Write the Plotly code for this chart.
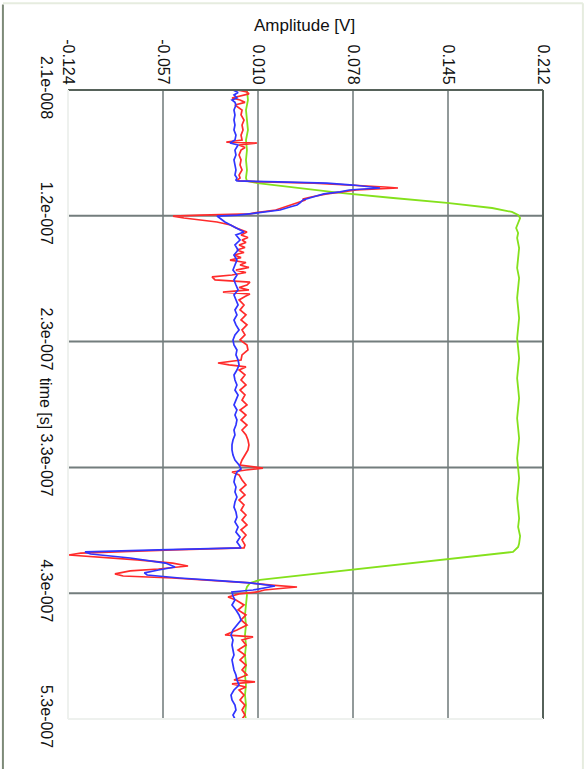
import plotly.graph_objects as go

# ---- axis ticks ----
time_ticks = [2.1e-8, 1.228e-7, 2.246e-7, 3.264e-7, 4.282e-7, 5.3e-7]
time_labels = ["2.1e-008", "1.2e-007", "2.3e-007", "3.3e-007", "4.3e-007", "5.3e-007"]
amp_ticks = [-0.124, -0.0568, 0.0104, 0.0776, 0.1448, 0.212]
amp_labels = ["-0.124", "-0.057", "0.010", "0.078", "0.145", "0.212"]

# ---- measured waveforms: time in ns, amplitude in V ----
blue_t = [21.0, 23.0, 25.0, 27.5, 29.1, 31.0, 33.1, 37.2, 41.2, 45.3, 49.3, 53.4, 57.5, 61.5,
          63.9, 65.5, 69.6, 73.6, 77.6, 81.7, 85.7, 89.8, 92.2, 93.8,
          94.6, 95.4, 96.3, 97.9, 99.5, 100.3, 101.1, 101.9, 103.5, 105.1, 107.6, 110.0, 112.4,
          114.1, 115.7, 118.1, 120.5, 122.2, 123.0, 127.8, 132.7, 135.9,
          138.3, 142.4, 146.4, 150.5, 154.5, 158.6, 162.6, 166.7, 170.7, 174.7, 178.8, 182.8,
          186.9, 190.9, 195.0, 199.0, 203.0, 207.1, 211.1, 215.2, 219.2, 223.3, 227.4, 231.4,
          235.4, 239.5, 243.5, 247.6, 251.6, 255.7, 259.7, 263.8, 267.8, 271.9, 275.9, 279.9,
          284.0, 288.0, 292.1, 296.1, 300.1, 304.2, 308.2, 312.3, 316.4, 320.4, 324.5, 327.7,
          330.1, 334.2, 338.2, 342.3, 346.3, 350.4, 354.4, 358.5, 362.5, 366.6, 370.6, 374.7,
          378.7, 382.8, 386.8, 389.2, 391.6,
          393.2, 394.8, 396.5, 399.7, 403.8, 407.0, 409.4, 411.8, 413.5, 415.9, 418.3, 419.9,
          422.4, 424.0, 425.6, 427.2, 430.5, 433.7, 437.7, 441.8, 445.8, 449.9, 454.0, 458.0,
          462.0, 466.1, 470.1, 474.2, 478.2, 482.2, 486.3, 490.3, 494.4, 498.4, 502.5, 506.5,
          510.6, 514.6, 518.7, 522.7, 526.8, 530.0]
blue_v = [-0.0073, -0.0037, -0.0066, -0.0045, -0.0080, -0.0059, -0.0052, -0.0066, -0.0059,
          -0.0066, -0.0059, -0.0066, -0.0052, -0.0059,
          -0.0094, -0.0037, -0.0059, -0.0052, -0.0066, -0.0059, -0.0052, -0.0059, -0.0045, -0.0052,
          -0.0045, 0.0250, 0.0592, 0.0777, 0.0896, 0.0967, 0.0850, 0.0750, 0.0685, 0.0570,
          0.0493, 0.0422, 0.0401, 0.0380, 0.0330, 0.0260, 0.0097, -0.0040, -0.0186, -0.0130,
          -0.0050, 0.0005,
          -0.0052, -0.0023, -0.0059, -0.0037, -0.0066, -0.0045, -0.0059, -0.0073, -0.0045,
          -0.0066, -0.0052, -0.0037, -0.0066, -0.0052, -0.0037, -0.0059, -0.0045, -0.0066,
          -0.0052, -0.0030, -0.0059, -0.0073, -0.0066, -0.0045, -0.0052, -0.0037, -0.0030,
          -0.0045, -0.0066, -0.0059, -0.0045, -0.0059, -0.0037, -0.0052, -0.0066, -0.0045,
          -0.0059, -0.0045, -0.0052, -0.0066, -0.0059, -0.0073, -0.0080, -0.0080, -0.0073,
          -0.0059, -0.0030, -0.0016, -0.0045, -0.0059, -0.0066, -0.0052, -0.0059, -0.0045,
          -0.0059, -0.0066, -0.0052, -0.0045, -0.0059, -0.0037, -0.0052, -0.0023, -0.0045,
          -0.0030, -0.0016,
          -0.0600, -0.1120, -0.1080, -0.0800, -0.0550, -0.0483, -0.0600, -0.0700, -0.0680,
          -0.0450, -0.0150, 0.0047, 0.0224, 0.0150, 0.0069, -0.0080, -0.0073, -0.0059, -0.0080,
          -0.0052, -0.0030, -0.0016, -0.0045, -0.0073, -0.0087, -0.0073, -0.0080, -0.0073,
          -0.0066, -0.0080, -0.0073, -0.0066, -0.0052, -0.0045, -0.0030, -0.0066, -0.0087,
          -0.0080, -0.0059, -0.0052, -0.0073, -0.0059]

red_t = [21.0, 22.6, 24.2, 25.8, 27.5, 29.1, 31.0, 33.1, 35.1, 37.2, 41.2, 45.3, 49.3, 53.4,
         57.5, 61.5, 63.1, 63.9, 65.5, 67.6, 69.6, 73.6, 77.6, 81.7, 85.7, 89.8, 92.2, 93.8,
         94.6, 95.4, 96.3, 97.9, 99.5, 100.3, 101.1, 101.9, 103.5, 105.1, 107.6, 109.2, 110.0,
         112.4, 114.1, 115.7, 118.1, 120.5, 121.3, 122.2, 123.0, 124.6, 126.2, 127.8, 130.2,
         132.7, 135.9,
         138.3, 140.3, 142.4, 144.4, 146.4, 148.5, 150.5, 152.5, 154.5, 156.6, 158.6, 160.6,
         162.6, 164.6, 166.7, 168.7, 170.7, 172.3, 174.7, 176.4, 178.8, 180.8, 182.8, 184.5,
         186.1, 188.1, 190.9, 195.0, 199.0, 203.0, 207.1, 211.1, 215.2, 219.2, 223.3, 227.4,
         231.4, 235.4, 239.5, 241.9, 243.5, 245.1, 247.6, 251.6, 255.7, 259.7, 263.8, 267.8,
         271.9, 275.9, 279.9, 284.0, 288.0, 292.1, 296.1, 300.1, 304.2, 308.2, 312.3, 316.4,
         320.4, 324.5, 327.0, 328.5, 330.1, 332.5, 336.6, 340.6, 344.7, 348.7, 352.8, 356.8,
         360.9, 364.9, 368.9, 373.0, 377.0, 381.1, 385.1, 389.2, 391.6,
         393.2, 395.7, 397.3, 399.0, 401.3, 403.8, 406.2, 408.6, 410.2, 412.6, 414.3, 415.9,
         418.3, 419.9, 421.6, 423.2, 424.0, 425.6, 427.2, 428.8,
         431.3, 433.7, 437.7, 441.8, 445.8, 449.9, 454.0, 458.0, 462.0, 463.6, 466.1, 470.1,
         474.2, 478.2, 482.2, 486.3, 490.3, 494.4, 498.4, 500.0, 501.6, 504.1, 506.5, 510.6,
         514.6, 518.7, 522.7, 526.8, 530.0]
red_v = [-0.0045, 0.0026, 0.0040, -0.0030, -0.0080, -0.0023, 0.0012, -0.0059, -0.0037,
         -0.0009, -0.0016, 0.0005, -0.0009, -0.0002, -0.0016, -0.0009, -0.0120, 0.0097,
         -0.0030, 0.0012, -0.0016, -0.0030, -0.0016, -0.0023, -0.0009, -0.0030, -0.0023, -0.0040,
         -0.0030, 0.0150, 0.0500, 0.0800, 0.1000, 0.1094, 0.0950, 0.0800, 0.0700, 0.0590,
         0.0480, 0.0420, 0.0440, 0.0380, 0.0330, 0.0300, 0.0230, 0.0080, 0.0050, -0.0300,
         -0.0497, -0.0420, -0.0300, -0.0186, -0.0090, -0.0050, 0.0026,
         -0.0016, 0.0033, -0.0009, 0.0019, -0.0030, 0.0012, -0.0045, 0.0005, -0.0066, -0.0016,
         -0.0094, 0.0019, -0.0023, 0.0040, -0.0052, 0.0019, -0.0080, -0.0221, -0.0200, 0.0047,
         0.0026, -0.0030, 0.0040, -0.0144, 0.0047, 0.0012, -0.0030, 0.0005, -0.0023, 0.0019,
         -0.0016, 0.0026, -0.0009, 0.0012, -0.0023, 0.0026, 0.0033, -0.0009, -0.0016, -0.0179,
         -0.0100, 0.0019, -0.0030, 0.0012, -0.0016, 0.0019, -0.0023, 0.0012, -0.0009, 0.0026,
         -0.0023, 0.0019, -0.0016, 0.0026, -0.0009, 0.0019, 0.0033, 0.0040, 0.0033, 0.0012,
         -0.0009, -0.0023, 0.0139, 0.0020, -0.0080, -0.0030, -0.0009, 0.0019, -0.0023, 0.0012,
         -0.0030, 0.0005, -0.0016, 0.0019, -0.0009, 0.0026, -0.0016, 0.0019, -0.0009, 0.0012,
         0.0005,
         -0.0500, -0.1150, -0.1235, -0.1000, -0.0750, -0.0500, -0.0391, -0.0600, -0.0800,
         -0.0908, -0.0850, -0.0500, -0.0150, 0.0047, 0.0200, 0.0380, 0.0300, 0.0150, 0.0097,
         -0.0030,
         -0.0108, -0.0052, 0.0005, -0.0037, 0.0019, -0.0016, 0.0026, -0.0045, -0.0129, 0.0069,
         -0.0009, 0.0019, -0.0037, 0.0012, -0.0023, 0.0019, -0.0009, 0.0026, -0.0066, 0.0083,
         -0.0080, 0.0019, -0.0030, 0.0005, -0.0023, 0.0012, -0.0009, 0.0012, -0.0009]

green_t = [21.0, 29.1, 37.2, 45.3, 53.4, 61.5, 69.6, 77.6, 85.7, 92.2, 94.6,
           96.3, 98.7, 101.1, 104.3, 108.4, 112.4, 116.5, 119.7, 122.2, 124.6,
           128.6, 132.7, 136.7, 140.8, 148.9, 157.0, 165.1, 173.2, 181.3, 189.4, 197.5, 205.6,
           213.7, 221.8, 229.9, 238.0, 246.1, 254.2, 262.3, 270.4, 278.5, 286.6, 294.7, 302.8,
           310.9, 319.0, 327.1, 335.2, 343.3, 351.4, 359.5, 367.6, 374.6, 382.0, 388.0, 390.8,
           394.8, 400.5, 409.4, 417.5, 419.9, 423.2, 425.6, 429.6, 437.7, 445.8, 453.9, 462.0,
           470.1, 478.2, 486.3, 494.4, 502.5, 510.6, 518.7, 526.8, 530.0]
green_v = [0.0026, 0.0033, 0.0019, 0.0026, 0.0033, 0.0019, 0.0026, 0.0019, 0.0026, 0.0019, 0.0026,
           0.0100, 0.0270, 0.0460, 0.0685, 0.1060, 0.1441, 0.1760, 0.1900, 0.1944, 0.1958,
           0.1944, 0.1930, 0.1944, 0.1937, 0.1951, 0.1944, 0.1937, 0.1951, 0.1944, 0.1937,
           0.1944, 0.1951, 0.1944, 0.1937, 0.1944, 0.1951, 0.1944, 0.1937, 0.1944, 0.1951,
           0.1944, 0.1937, 0.1944, 0.1951, 0.1944, 0.1937, 0.1944, 0.1951, 0.1944, 0.1937,
           0.1944, 0.1951, 0.1944, 0.1958, 0.1951, 0.1944,
           0.1908, 0.1462, 0.0777, 0.0118, 0.0047, 0.0026, 0.0019, 0.0026, 0.0019, 0.0012,
           0.0019, 0.0012, 0.0019, 0.0012, 0.0019, 0.0012, 0.0019, 0.0012, 0.0019, 0.0012,
           0.0019]

NS = 1e-9
FONT = "Liberation Sans, Arial, sans-serif"

fig = go.Figure()
fig.add_trace(go.Scatter(x=green_v, y=[t * NS for t in green_t], mode="lines",
                         line=dict(color="#84e11c", width=1.8), showlegend=False))
fig.add_trace(go.Scatter(x=red_v, y=[t * NS for t in red_t], mode="lines",
                         line=dict(color="#ff2b2b", width=1.7), showlegend=False))
fig.add_trace(go.Scatter(x=blue_v, y=[t * NS for t in blue_t], mode="lines",
                         line=dict(color="#3035ff", width=1.7), showlegend=False))

shapes = []
# grid: vertical lines at inner amplitude ticks, horizontal at inner time ticks
for a in amp_ticks[1:-1]:
    shapes.append(dict(type="line", xref="x", yref="paper", x0=a, x1=a, y0=0, y1=1,
                       line=dict(color="#929a9a", width=2), layer="below"))
for t in time_ticks[1:-1]:
    shapes.append(dict(type="line", xref="paper", yref="y", x0=0, x1=1, y0=t, y1=t,
                       line=dict(color="#737d7d", width=2), layer="below"))
# plot frame: dark top/right, light left/bottom
shapes += [
    dict(type="line", xref="paper", yref="paper", x0=0, x1=1, y0=1, y1=1,
         line=dict(color="#56625a", width=2)),
    dict(type="line", xref="paper", yref="paper", x0=1, x1=1, y0=0, y1=1,
         line=dict(color="#56625a", width=2)),
    dict(type="line", xref="paper", yref="paper", x0=0, x1=1, y0=0, y1=0,
         line=dict(color="#eef1ee", width=2)),
    dict(type="line", xref="paper", yref="paper", x0=0, x1=0, y0=0, y1=1,
         line=dict(color="#eef1ee", width=2)),
]
# outer window frame
shapes += [
    dict(type="line", xref="paper", yref="paper", x0=-0.137, x1=-0.137, y0=-0.08, y1=1.136,
         line=dict(color="#7d8a78", width=2)),
    dict(type="line", xref="paper", yref="paper", x0=-0.137, x1=1.084, y0=1.138, y1=1.138,
         line=dict(color="#e6ecdf", width=2)),
    dict(type="line", xref="paper", yref="paper", x0=1.084, x1=1.084, y0=-0.08, y1=1.138,
         line=dict(color="#e6ecdf", width=2)),
]

fig.update_layout(
    width=587, height=769,
    margin=dict(l=68, r=44, t=90, b=50),
    paper_bgcolor="white", plot_bgcolor="white",
    font=dict(family=FONT, size=16, color="#111111"),
    shapes=shapes,
    xaxis=dict(side="top", range=[-0.124, 0.212], tickvals=amp_ticks, ticktext=amp_labels,
               tickangle=90, showgrid=False, zeroline=False, showline=False, ticks="",
               ticklabelstandoff=2, tickfont=dict(size=16)),
    yaxis=dict(range=[5.3e-7, 2.1e-8], tickvals=time_ticks, ticktext=time_labels,
               tickangle=90, showgrid=False, zeroline=False, showline=False, ticks="",
               ticklabelstandoff=10, tickfont=dict(size=16)),
    annotations=[
        dict(text="Amplitude [V]", xref="paper", yref="paper", x=0.497, y=1.103,
             showarrow=False, font=dict(size=17), xanchor="center", yanchor="middle"),
        dict(text="time [s]", xref="paper", yref="paper", x=-0.048, y=0.501,
             showarrow=False, textangle=90, font=dict(size=16),
             xanchor="center", yanchor="middle"),
    ],
)

fig.write_html("out.html")
